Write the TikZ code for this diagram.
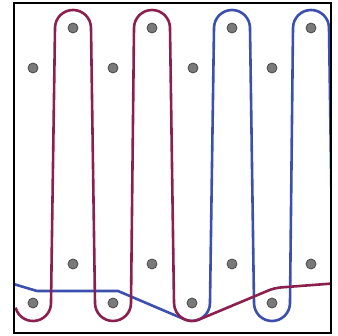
\documentclass[tikz,border=0pt]{standalone}
\usetikzlibrary{calc}
\definecolor{wine}{RGB}{139,31,78}
\definecolor{royal}{RGB}{59,80,174}
\definecolor{dotfill}{RGB}{122,122,122}
\definecolor{dotedge}{RGB}{72,72,72}
\tikzset{
  pin/.style={circle,fill=dotfill,draw=dotedge,line width=0.8pt,minimum size=10pt,inner sep=0pt},
  redline/.style={draw=wine,line width=2.6pt,line join=round},
  blueline/.style={draw=royal,line width=2.6pt,line join=round},
  frame/.style={draw=black,line width=1.4pt}
}
\begin{document}
\begin{tikzpicture}[x=1pt,y=1pt]
\useasboundingbox (0,0) rectangle (338,336);
\fill[white] (0,0) rectangle (338,336);
% pins
\node[pin] (t1) at (73,308) {};
\node[pin] (t2) at (152,308) {};
\node[pin] (t3) at (232,308) {};
\node[pin] (t4) at (311,308) {};
\node[pin] (m1) at (33,268) {};
\node[pin] (m2) at (113,268) {};
\node[pin] (m3) at (193,268) {};
\node[pin] (m4) at (272,268) {};
\node[pin] (n1) at (73,72) {};
\node[pin] (n2) at (152,72) {};
\node[pin] (n3) at (232,72) {};
\node[pin] (n4) at (311,72) {};
\node[pin] (b1) at (33,33) {};
\node[pin] (b2) at (113,33) {};
\node[pin] (b3) at (192,33) {};
\node[pin] (b4) at (272,33) {};
\begin{scope}
\clip (14,3) rectangle (331,333);
% blue curve
\draw[blueline] (10,53) -- (37,45) -- (118,45) -- (185.3,16.3)
  arc (248.2:360:18) -- (214,308) arc (180:0:18) -- (254,33)
  arc (180:360:18) -- (293,308) arc (180:0:18) -- (333,33);
% red curve
\draw[redline] (15.6,28.3) arc (195:360:18) -- (55,308) arc (180:0:18)
  -- (95,33) arc (180:360:18) -- (134,308) arc (180:0:18)
  -- (174,33) arc (180:294:18) -- (266,44.5)
  .. controls (272,47.2) and (276,48.2) .. (284,48.8) -- (334,52.6);
\end{scope}
\draw[frame] (14,3) rectangle (331,333);
\end{tikzpicture}
\end{document}
